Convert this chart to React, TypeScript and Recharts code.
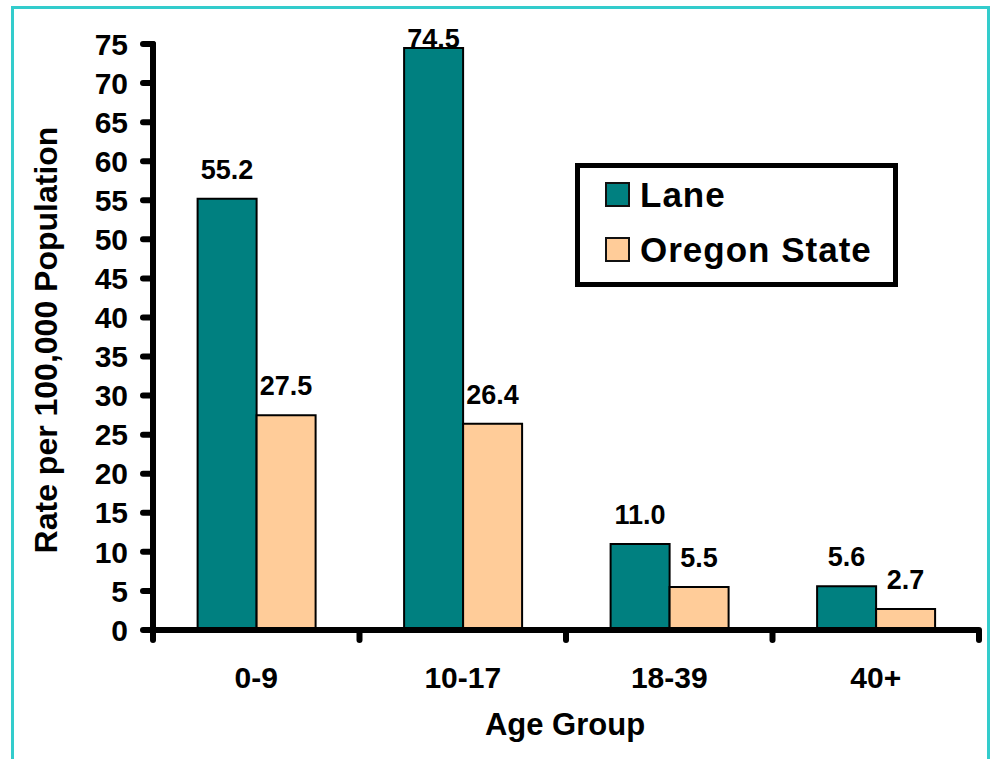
import React from 'react';
import { BarChart, Bar, XAxis, YAxis, Legend, LabelList } from 'recharts';

const categories = ['0-9', '10-17', '18-39', '40+'];
const laneValues = [55.2, 74.5, 11.0, 5.6];
const oregonValues = [27.5, 26.4, 5.5, 2.7];
const yTicks = [0, 5, 10, 15, 20, 25, 30, 35, 40, 45, 50, 55, 60, 65, 70, 75];
const seriesNames = ['Lane', 'Oregon State'];
const seriesColors = ['#008080', '#FFCC99'];

const data = categories.map((c, i) => ({ group: c, lane: laneValues[i], oregon: oregonValues[i] }));

const FONT = "'Liberation Sans', Arial, Helvetica, sans-serif";

const XTick = (props: any) => {
  const { x, y, payload, index, visibleTicksCount } = props;
  const off = payload?.offset ?? 0;
  const count = visibleTicksCount ?? categories.length;
  const isLast = index === count - 1;
  return (
    <g>
      <line x1={x - off} x2={x - off} y1={y} y2={y + 10} stroke="#000" strokeWidth={6} strokeLinecap="round" />
      {isLast && (
        <line x1={x + off} x2={x + off} y1={y} y2={y + 10} stroke="#000" strokeWidth={6} strokeLinecap="round" />
      )}
      <text x={x} y={y + 58} textAnchor="middle" fontFamily={FONT} fontWeight="bold" fontSize={30} fill="#000">
        {payload.value}
      </text>
    </g>
  );
};

const YTitle = () => (
  <text
    x={57}
    y={340}
    transform="rotate(-90, 57, 340)"
    textAnchor="middle"
    fontFamily={FONT}
    fontWeight="bold"
    fontSize={32}
    fill="#000"
  >
    Rate per 100,000 Population
  </text>
);

const XTitle = () => (
  <text x={565} y={735} textAnchor="middle" fontFamily={FONT} fontWeight="bold" fontSize={31} fill="#000">
    Age Group
  </text>
);

const ValueLabel = (props: any) => {
  const { x, y, width, value } = props;
  const baseline = Math.max(Number(y) - 20, 48);
  return (
    <text
      x={Number(x) + Number(width) / 2}
      y={baseline}
      textAnchor="middle"
      fontFamily={FONT}
      fontWeight="bold"
      fontSize={27}
      fill="#000"
    >
      {Number(value).toFixed(1)}
    </text>
  );
};

const renderLegend = (props: any) => {
  const items = props.payload ?? [];
  return (
    <div
      style={{
        width: 323,
        height: 124,
        boxSizing: 'border-box',
        border: '5px solid #000',
        background: '#fff',
        position: 'relative',
        fontFamily: FONT,
      }}
    >
      {items.map((it: any, i: number) => (
        <div
          key={String(it.value)}
          style={{
            position: 'absolute',
            left: 25,
            top: 14 + i * 55,
            height: 25,
            display: 'flex',
            alignItems: 'center',
            whiteSpace: 'nowrap',
          }}
        >
          <span
            style={{
              width: 25,
              height: 25,
              boxSizing: 'border-box',
              border: '2px solid #111',
              background: it.color,
              display: 'inline-block',
              flex: 'none',
            }}
          />
          <span
            style={{
              marginLeft: 10,
              fontSize: 35,
              fontWeight: 'bold',
              color: '#000',
              lineHeight: 'normal',
              letterSpacing: 1,
            }}
          >
            {it.value}
          </span>
        </div>
      ))}
    </div>
  );
};

export default function App() {
  return (
    <div
      style={{
        position: 'absolute',
        left: 0,
        top: 0,
        width: 994,
        height: 759,
        overflow: 'hidden',
        background: '#fff',
      }}
    >
      <div
        style={{
          position: 'absolute',
          left: 11,
          top: 6,
          width: 979,
          height: 820,
          boxSizing: 'border-box',
          border: '3.5px solid #33CCCC',
        }}
      />
      <div style={{ position: 'absolute', left: 0, top: 0 }}>
        <BarChart
          width={994}
          height={759}
          data={data}
          margin={{ top: 44, right: 15, left: 1, bottom: 69 }}
          barCategoryGap="21.6%"
          barGap={0}
        >
          <XAxis
            dataKey="group"
            height={60}
            tickLine={false}
            tickSize={0}
            tickMargin={0}
            axisLine={{ stroke: '#000', strokeWidth: 6 }}
            tick={<XTick />}
            interval={0}
            label={<XTitle />}
          />
          <YAxis
            width={152}
            domain={[0, 75]}
            ticks={yTicks}
            interval={0}
            tickSize={10}
            tickMargin={15}
            axisLine={{ stroke: '#000', strokeWidth: 6, strokeLinecap: 'round' }}
            tickLine={{ stroke: '#000', strokeWidth: 6, strokeLinecap: 'round' }}
            tick={{ fontFamily: FONT, fontWeight: 'bold', fontSize: 30, fill: '#000' }}
            label={<YTitle />}
          />
          <Legend
            layout="vertical"
            align="center"
            verticalAlign="middle"
            wrapperStyle={{ position: 'absolute', left: 575, top: 163, width: 323, height: 124, margin: 0, padding: 0 }}
            content={renderLegend}
          />
          <Bar
            dataKey="lane"
            name={seriesNames[0]}
            fill={seriesColors[0]}
            stroke="#000"
            strokeWidth={2}
            isAnimationActive={false}
          >
            <LabelList dataKey="lane" content={<ValueLabel />} />
          </Bar>
          <Bar
            dataKey="oregon"
            name={seriesNames[1]}
            fill={seriesColors[1]}
            stroke="#000"
            strokeWidth={2}
            isAnimationActive={false}
          >
            <LabelList dataKey="oregon" content={<ValueLabel />} />
          </Bar>
        </BarChart>
      </div>
    </div>
  );
}
